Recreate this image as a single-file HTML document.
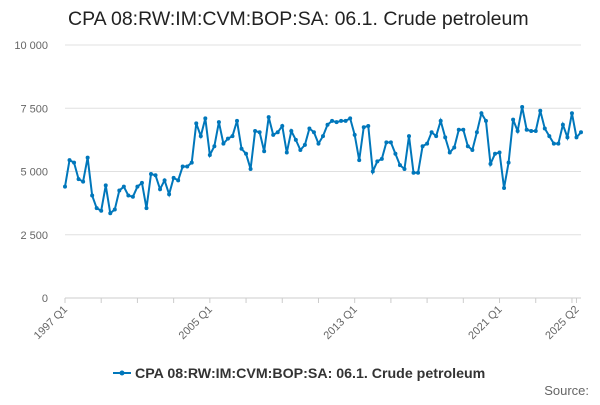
<!DOCTYPE html>
<html><head><meta charset="utf-8"><style>
body{margin:0;width:600px;height:400px;background:#fff;font-family:"Liberation Sans",sans-serif;overflow:hidden}
</style></head><body>
<svg width="600" height="400">
<text x="68" y="25" font-size="19.5" fill="#222">CPA 08:RW:IM:CVM:BOP:SA: 06.1. Crude petroleum</text>
<g id="grid"></g><g id="xaxis"></g><g id="series"></g>
<g>
<line x1="113" y1="373" x2="131" y2="373" stroke="#0077bb" stroke-width="2"/>
<circle cx="122" cy="373" r="2.5" fill="#0077bb"/>
<text x="135" y="378" font-size="14.2" font-weight="bold" fill="#333">CPA 08:RW:IM:CVM:BOP:SA: 06.1. Crude petroleum</text>
</g>
<text x="589" y="395" font-size="13" fill="#666" text-anchor="end">Source:</text>
</svg>
<script>
const yTicks=[0,2500,5000,7500,10000];
const yTickLabels=["0","2 500","5 000","7 500","10 000"];
const xLabels=["1997 Q1","2005 Q1","2013 Q1","2021 Q1","2025 Q2"];
const xLabelIdx=[0,32,64,96,113];
const values=[4400,5450,5350,4700,4600,5550,4050,3550,3450,4450,3350,3500,4250,4400,4050,4000,4400,4550,3550,4900,4850,4300,4650,4100,4750,4650,5200,5200,5350,6900,6400,7100,5650,6000,6950,6100,6300,6400,7000,5900,5700,5100,6600,6550,5800,7150,6450,6550,6800,5750,6600,6250,5850,6050,6700,6550,6100,6400,6850,7000,6950,7000,7000,7100,6450,5450,6750,6800,5000,5400,5500,6150,6150,5700,5250,5100,6400,4950,4950,6000,6100,6550,6400,7000,6350,5750,5950,6650,6650,6000,5850,6550,7300,7000,5300,5700,5750,4350,5350,7050,6600,7550,6650,6600,6600,7400,6700,6400,6100,6100,6850,6350,7300,6350,6550];
const NS="http://www.w3.org/2000/svg";
const x0=65,x1=581,yb=298,yt=45;
const X=i=>x0+(x1-x0)*i/(values.length-1);
const Y=v=>yb-(yb-yt)*v/10000;
function mk(t,a,p){const e=document.createElementNS(NS,t);for(const k in a)e.setAttribute(k,a[k]);p.appendChild(e);return e;}
const g=document.getElementById('grid');
yTicks.forEach((v,i)=>{
 const l=mk('line',{x1:x0,x2:x1,y1:Y(v),y2:Y(v),stroke:v===0?'#ccc':'#e0e0e0'},g);
 
 
 const t=mk('text',{x:48,y:Y(v)+4,'font-size':11,fill:'#666','text-anchor':'end'},g);
 t.textContent=yTickLabels[i];
 
 
});
const xa=document.getElementById('xaxis');
for(let i=0;i<values.length;i+=8){
 const tk=mk('line',{x1:X(i),x2:X(i),y1:yb,y2:yb+5,stroke:'#ccc'},xa);
 
 
}
mk('line',{x1:X(113),x2:X(113),y1:yb,y2:yb+5,stroke:'#ccc'},xa);
xLabels.forEach((s,k)=>{
 const x=X(xLabelIdx[k]),y=yb+12;
 const t=mk('text',{x:x+3,y:y,'font-size':11,fill:'#666','text-anchor':'end',transform:`rotate(-45 ${x+3} ${y})`},xa);
 t.textContent=s;
 
 
});
const s=document.getElementById('series');
const path=mk('polyline',{points:values.map((v,i)=>X(i)+','+Y(v)).join(' '),fill:'none',stroke:'#0077bb','stroke-width':2},s);


values.forEach((v,i)=>{
 const c=mk('circle',{cx:X(i),cy:Y(v),r:2,fill:'#0077bb'},s);
 
 
});
</script>
</body></html>
